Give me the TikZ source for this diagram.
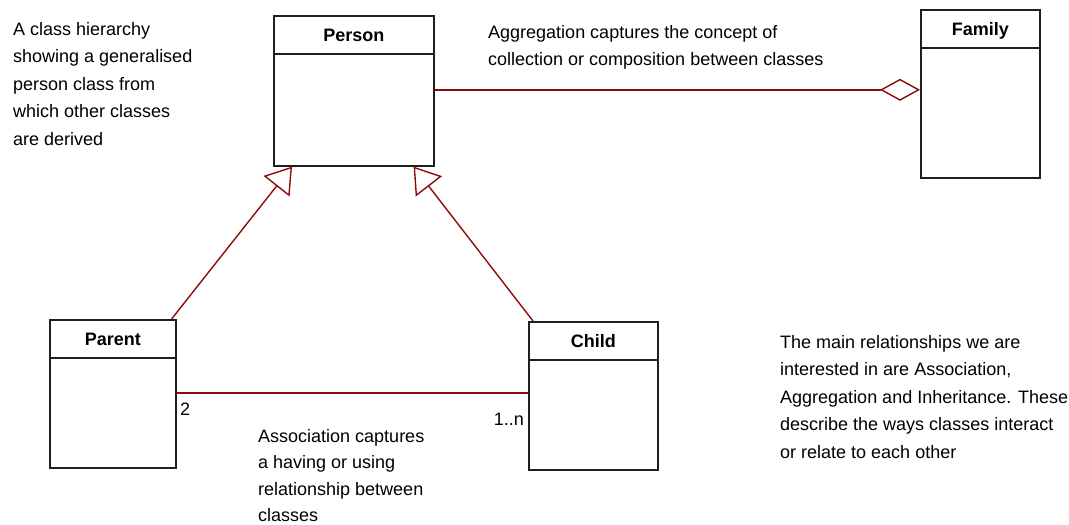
\documentclass[tikz,border=0pt]{standalone}
\usepackage{fontspec}
\setmainfont{Liberation Sans}
\usetikzlibrary{arrows.meta}
\definecolor{relred}{RGB}{140,12,12}
\tikzset{
	classbox/.style={rectangle, draw=black!88, line width=1.6pt, inner sep=0pt, anchor=north west},
	classtitle/.style={anchor=base, inner sep=0pt, font=\bfseries\fontsize{18}{20}\selectfont},
	relline/.style={draw=relred, line width=1.4pt},
	note/.style={anchor=north west, align=left, inner sep=0pt, font=\fontsize{18}{27.5}\selectfont},
	mult/.style={inner sep=0pt, font=\fontsize{18}{20}\selectfont}
}
\begin{document}
\begin{tikzpicture}[x=1pt, y=-1pt]
	\useasboundingbox (0,0) rectangle (1069,525);
	% classes
	\node[classbox, minimum width=160pt, minimum height=150pt](person) at (273,15){};
	\node[classbox, minimum width=119pt, minimum height=168pt](family) at (920,9){};
	\node[classbox, minimum width=126pt, minimum height=148pt](parent) at (49,319){};
	\node[classbox, minimum width=129pt, minimum height=148pt](child) at (528,321){};
	\node[classtitle](persontitle) at ([yshift=-26pt]person.north){Person};
	\node[classtitle](familytitle) at ([yshift=-26pt]family.north){Family};
	\node[classtitle](parenttitle) at ([yshift=-26pt]parent.north){Parent};
	\node[classtitle](childtitle) at ([yshift=-26pt]child.north){Child};
	\draw [line width=1.4pt,color=black!88] ([yshift=-39pt]person.north west) -- ([yshift=-39pt]person.north east);
	\draw [line width=1.4pt,color=black!88] ([yshift=-39pt]family.north west) -- ([yshift=-39pt]family.north east);
	\draw [line width=1.4pt,color=black!88] ([yshift=-39pt]parent.north west) -- ([yshift=-39pt]parent.north east);
	\draw [line width=1.4pt,color=black!88] ([yshift=-39pt]child.north west) -- ([yshift=-39pt]child.north east);

	% relationships
	\draw [relline, -{Diamond[open, length=40pt, width=22pt]}] ([yshift=1pt]person.east) -- ([yshift=1pt]person.east -| family.west);
	\draw [relline, -{Triangle[open, length=25pt, width=33pt]}] ([xshift=-5pt]parent.north east) -- ([xshift=19pt]person.south west);
	\draw [relline, -{Triangle[open, length=25pt, width=33pt]}] ([xshift=5pt]child.north west) -- ([xshift=-21pt]person.south east);
	\draw [relline] ([yshift=1pt]parent.east) -- ([yshift=1pt]parent.east -| child.west);
	\node[mult, anchor=base west](twolabel) at (180,415){2};
	\node[mult, anchor=base east](manylabel) at (524,425){1..n};

	% notes
	\node[note](hierarchynote) at (13,22){A class hierarchy\\showing a generalised\\person class from\\which other classes\\are derived};
	\node[note](aggregationnote) at (488,25){Aggregation captures the concept of\\collection or composition between classes};
	\node[note, font=\fontsize{18}{26.5}\selectfont](associationnote) at (258,429){Association captures\\a having or using\\relationship between\\classes};
	\node[note](relationsnote) at (780,335){The main relationships we are\\interested in are Association,\\Aggregation and Inheritance. These\\describe the ways classes interact\\or relate to each other};
\end{tikzpicture}
\end{document}
